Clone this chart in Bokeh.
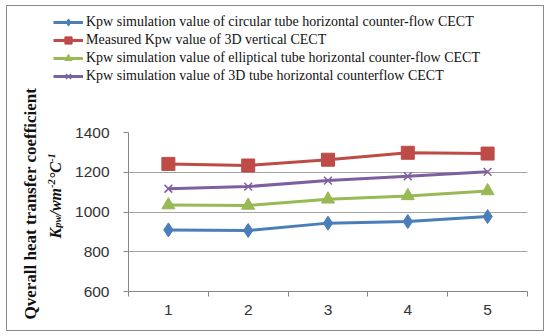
import math
from bokeh.plotting import figure
from bokeh.layouts import column, row
from bokeh.models import Range1d, FixedTicker, Legend, LegendItem, Label, Title
from bokeh.embed import file_html
from bokeh.resources import INLINE

categories = ["1", "2", "3", "4", "5"]
circular = [910, 907, 944, 952, 977]
measured_3d = [1242, 1234, 1263, 1298, 1294]
elliptical = [1035, 1033, 1064, 1081, 1106]
tube_3d = [1117, 1128, 1158, 1180, 1202]
y_ticks = [600, 800, 1000, 1200, 1400]

names = [
    "Kpw simulation value of circular tube horizontal counter-flow CECT",
    "Measured Kpw value of 3D vertical CECT",
    "Kpw simulation value of elliptical tube horizontal counter-flow CECT",
    "Kpw simulation value of 3D tube horizontal counterflow CECT",
]
title_line1 = "Qverall heat transfer coefficient"
# (text, font size px, baseline shift px, advance px)
title_line2 = [
    ("K", 16, 0, 10.7),
    ("pw", 10.5, 2, 12.3),
    ("/wm", 16, 0, 27.6),
    ("-2", 10.5, -4.5, 8.8),
    ("°C", 16, 0, 17.1),
    ("-1", 10.5, -4.5, 8.8),
]
colors = ["#4a7ebb", "#be4b48", "#98b954", "#7d60a0"]
markers = ["diamond", "square", "triangle", "x"]
sizes = [14, 13, 13, 11]
series = [circular, measured_3d, elliptical, tube_3d]

xs = [int(c) for c in categories]

# page geometry (outer box drawn by an outline around the layout)
OX, OY = 7, 6            # layout offset on the page
LW, LH = 536, 324        # layout size
TOP_H = 80               # legend strip height (page y 6..86)
S1_W = 36                # first title line strip (page x 7..43)
S2_W = 29                # second title line strip (page x 43..72)
ROW_H = LH - TOP_H       # 244 (page y 86..330)
MB_TOP, MB_BOTTOM = 46, 39


def blank(width, height, xr, yr, **kw):
    f = figure(width=width, height=height, output_backend="svg", toolbar_location=None,
               x_range=xr, y_range=yr, x_axis_type=None, y_axis_type=None, **kw)
    f.outline_line_color = None
    f.grid.visible = False
    f.border_fill_color = "white"
    f.background_fill_color = "white"
    return f


# --- main chart ---
p = figure(width=LW - S1_W - S2_W, height=ROW_H, output_backend="svg", toolbar_location=None,
           x_range=Range1d(0.5, 5.5), y_range=Range1d(600, 1400),
           min_border_left=51, min_border_right=16, min_border_top=MB_TOP,
           min_border_bottom=MB_BOTTOM)
p.outline_line_color = None
p.background_fill_color = "white"
p.border_fill_color = "white"

p.xgrid.grid_line_color = None
p.ygrid.grid_line_color = "#a3a3a3"
p.ygrid.grid_line_width = 1

p.xaxis.ticker = FixedTicker(ticks=xs, minor_ticks=[x - 0.5 for x in xs] + [xs[-1] + 0.5])
p.xaxis.major_tick_out = 0
p.xaxis.major_tick_in = 0
p.xaxis.minor_tick_out = 5
p.xaxis.minor_tick_in = 0
p.xaxis.minor_tick_line_color = "#868686"
p.xaxis.major_label_standoff = 8
p.xaxis.major_label_overrides = {x: c for x, c in zip(xs, categories)}

p.yaxis.ticker = FixedTicker(ticks=y_ticks)
p.yaxis.major_tick_out = 5
p.yaxis.major_tick_in = 0
p.yaxis.minor_tick_line_color = None
p.yaxis.major_label_standoff = 14

for ax in (p.xaxis, p.yaxis):
    ax.axis_line_color = "#868686"
    ax.major_tick_line_color = "#868686"
    ax.major_label_text_font = "Liberation Sans"
    ax.major_label_text_font_size = "15.5px"
    ax.major_label_text_color = "#333333"

for vals, col, mk, sz in zip(series, colors, markers, sizes):
    p.line(xs, vals, line_color=col, line_width=3)
    if mk == "x":
        p.scatter(xs, vals, marker=mk, size=sz, line_color=col, line_width=1.5)
    else:
        p.scatter(xs, vals, marker=mk, size=sz, fill_color=col, line_color=col)

# --- top strip carrying the legend ---
top = blank(LW, TOP_H, Range1d(0, 1), Range1d(0, 1), min_border=0)
items = []
for vals, col, mk, sz, nm in zip(series, colors, markers, sizes, names):
    ln = top.line(xs, vals, line_color=col, line_width=3)
    if mk == "x":
        sc = top.scatter(xs, vals, marker=mk, size=sz, line_color=col, line_width=1.5)
    else:
        sc = top.scatter(xs, vals, marker=mk, size=sz, fill_color=col, line_color=col)
    items.append(LegendItem(label=nm, renderers=[ln, sc]))

legend = Legend(items=items, location=(53 - OX, 1), orientation="vertical",
                padding=0, margin=0, spacing=0, border_line_color=None,
                background_fill_alpha=0, label_text_font="Liberation Serif",
                label_text_font_size="14px", label_text_color="#111111",
                glyph_width=30, glyph_height=18, label_height=18, label_standoff=3)
top.add_layout(legend, "center")

# --- strip 1: first line of the y-axis title (side-panel title) ---
s1 = blank(S1_W, ROW_H, Range1d(0, 1), Range1d(0, 1),
           min_border_left=33, min_border_right=0,
           min_border_top=MB_TOP, min_border_bottom=MB_BOTTOM)
s1.add_layout(Title(text=title_line1, align="left", offset=-28, standoff=1,
                    text_font="Liberation Serif", text_font_style="bold",
                    text_font_size="17px", text_color="#111111"), "left")

# --- strip 2: second line with sub/superscripts; data units equal page pixels ---
s2 = blank(S2_W, ROW_H, Range1d(43, 72), Range1d(336 - 291, 336 - 132),
           min_border_left=0, min_border_right=0,
           min_border_top=MB_TOP, min_border_bottom=MB_BOTTOM)


def py(page_y):
    return 336 - page_y


cur = 238
for txt, fs, shift, adv in title_line2:
    s2.add_layout(Label(x=55 + shift, y=py(cur), text=txt, angle=math.pi / 2,
                        text_align="left", text_baseline="alphabetic",
                        text_font="Liberation Serif", text_font_style="bold italic",
                        text_font_size=f"{fs}px", text_color="#111111"))
    cur -= adv

layout = column(top, row(s1, s2, p, spacing=0), spacing=0)
layout.margin = (OY, 0, 0, OX)
layout.styles = {"outline": "1px solid #8a8a8a", "outline-offset": "0px"}

open("out.html", "w").write(file_html(layout, INLINE))
